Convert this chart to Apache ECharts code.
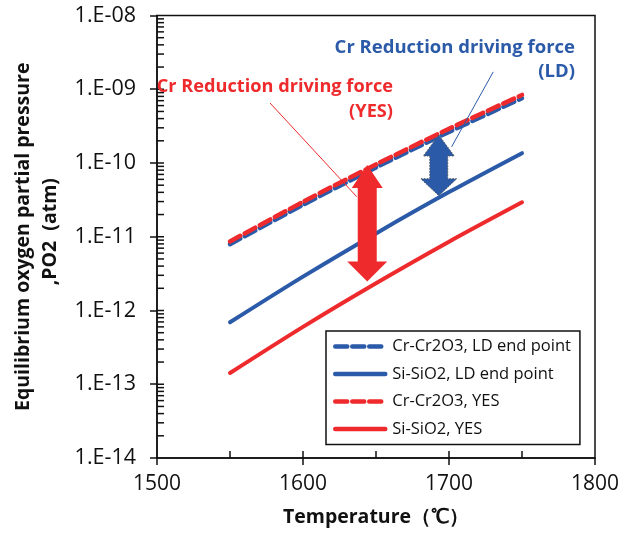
<!DOCTYPE html>
<html>
<head>
<meta charset="utf-8">
<script src="https://cdn.jsdelivr.net/npm/echarts@6/dist/echarts.min.js"></script>
<style>html,body{margin:0;padding:0;background:#fff}#c{width:626px;height:540px}</style>
</head>
<body>
<div id="c"></div>
<script>
// ---- data ----
const temps = [1550, 1600, 1650, 1700, 1750];
const crCr2O3_LD = [7.91e-12, 2.71e-11, 8.71e-11, 2.64e-10, 7.55e-10];
const siSiO2_LD = [6.92e-13, 2.88e-12, 1.11e-11, 4.03e-11, 1.36e-10];
const crCr2O3_YES = [8.63e-12, 2.97e-11, 9.57e-11, 2.91e-10, 8.37e-10];
const siSiO2_YES = [1.42e-13, 6.0e-13, 2.34e-12, 8.57e-12, 2.93e-11];
const seriesNames = ['Cr-Cr2O3, LD end point', 'Si-SiO2, LD end point', 'Cr-Cr2O3, YES', 'Si-SiO2, YES'];
const yTickLabels = ['1.E-14', '1.E-13', '1.E-12', '1.E-11', '1.E-10', '1.E-09', '1.E-08'];
const xTickLabels = ['1500', '1600', '1700', '1800'];
const xMinorTickValues = [1550, 1600, 1650, 1700, 1750];
// arrows: [temperature, top value, bottom value]
const arrowYES = [1644, 9.4e-11, 2.47e-12];
const arrowLD = [1693, 2.40e-10, 3.6e-11];
// leader lines: [t1, v1, t2, v2]
const leaderYES = [1577.4, 6.51e-10, 1636.8, 3.49e-11];
const leaderLD = [1730.3, 1.72e-9, 1701.8, 1.66e-10];
const annoYES = 'Cr Reduction driving force\n(YES)';
const annoLD = 'Cr Reduction driving force\n(LD)';

const BLUE = '#2a5aa8', RED = '#ee2a2c';
const FONT = '"Open Sans", sans-serif';

// y minor ticks (log positions within each decade) + inner half of majors
const yMinor = [];
for (let e = -14; e < -8; e++) {
  for (let k = 1; k <= 9; k++) {
    if (k === 1 && e === -14) continue;
    yMinor.push([1500, k * Math.pow(10, e)]);
  }
}
const xMinor = xMinorTickValues.map(t => [t, 1e-14]);

function zip(xs, ys) { return xs.map((x, i) => [x, ys[i]]); }

function arrowRender(headTopH, headTopW, headBotH, headBotW, shaftW, fill, stroke, dash) {
  return function (params, api) {
    const t = api.coord([api.value(0), api.value(1)]);
    const b = api.coord([api.value(0), api.value(2)]);
    const cx = t[0], top = t[1], bot = b[1];
    const pts = [
      [cx, top], [cx + headTopW / 2, top + headTopH], [cx + shaftW / 2, top + headTopH],
      [cx + shaftW / 2, bot - headBotH], [cx + headBotW / 2, bot - headBotH], [cx, bot],
      [cx - headBotW / 2, bot - headBotH], [cx - shaftW / 2, bot - headBotH],
      [cx - shaftW / 2, top + headTopH], [cx - headTopW / 2, top + headTopH]
    ];
    return {
      type: 'polygon', shape: { points: pts },
      style: { fill: fill, stroke: stroke || null, lineWidth: stroke ? 1 : 0, lineDash: dash || null }
    };
  };
}
function leaderRender(color) {
  return function (params, api) {
    const a = api.coord([api.value(0), api.value(1)]);
    const b = api.coord([api.value(2), api.value(3)]);
    return { type: 'line', shape: { x1: a[0], y1: a[1], x2: b[0], y2: b[1] }, style: { stroke: color, lineWidth: 1 } };
  };
}

const chart = echarts.init(document.getElementById('c'), null, { renderer: 'canvas' });
chart.setOption({
  animation: false,
  textStyle: { fontFamily: FONT },
  grid: { left: 157, right: 31, top: 15.5, bottom: 82, show: true, borderColor: '#111', borderWidth: 1.5, backgroundColor: 'transparent' },
  xAxis: {
    type: 'value', min: 1500, max: 1800, interval: 100,
    axisLine: { lineStyle: { color: '#111', width: 1.5 } },
    axisTick: { show: true, inside: false, length: 7, lineStyle: { color: '#111', width: 1.5 } },
    splitLine: { show: false },
    axisLabel: { color: '#111', fontSize: 21, fontFamily: FONT, margin: 16,
      formatter: v => xTickLabels[Math.round((v - 1500) / 100)] },
    name: 'Temperature（℃）', nameLocation: 'middle', nameGap: 49,
    nameTextStyle: { color: '#111', fontSize: 19.5, fontWeight: 'bold', fontFamily: FONT }
  },
  yAxis: {
    type: 'log', logBase: 10, min: 1e-14, max: 1e-8,
    axisLine: { lineStyle: { color: '#111', width: 1.5 } },
    axisTick: { show: true, inside: false, length: 7, lineStyle: { color: '#111', width: 1.5 } },
    minorTick: { show: false },
    splitLine: { show: false },
    axisLabel: { color: '#111', fontSize: 21.5, fontFamily: FONT, margin: 21,
      formatter: v => yTickLabels[Math.round(Math.log10(v)) + 14] },
    name: 'Equilibrium oxygen partial pressure\n  ,PO2  (atm)', nameLocation: 'middle', nameGap: 91, nameRotate: 90,
    nameTextStyle: { color: '#111', fontSize: 19.5, fontWeight: 'bold', fontFamily: FONT, lineHeight: 27, align: 'center' }
  },
  legend: {
    orient: 'vertical', left: 326, top: 331,
    data: seriesNames,
    itemWidth: 50, itemHeight: 14, itemGap: 10.5,
    padding: [7, 9, 7, 7],
    borderColor: '#111', borderWidth: 1.5, backgroundColor: '#fff',
    itemStyle: { color: 'rgba(0,0,0,0)', borderColor: 'rgba(0,0,0,0)', borderWidth: 0, opacity: 0 },
    lineStyle: { width: 4.5 },
    textStyle: { color: '#111', fontSize: 16.5, fontFamily: FONT, padding: [0, 0, 0, 2] },
    selectedMode: false
  },
  graphic: [
    { type: 'text', x: 575, y: 36, z: 100,
      style: { text: annoLD, fill: BLUE, font: 'bold 18.5px ' + FONT, textAlign: 'right', textVerticalAlign: 'top', lineHeight: 24 } },
    { type: 'text', x: 393, y: 74.5, z: 100,
      style: { text: annoYES, fill: RED, font: 'bold 18.2px ' + FONT, textAlign: 'right', textVerticalAlign: 'top', lineHeight: 25 } }
  ],
  series: [
    { name: seriesNames[0], type: 'line', data: zip(temps, crCr2O3_LD), smooth: 0.3, symbol: 'none', z: 3,
      lineStyle: { color: BLUE, width: 4.5, type: [12, 5], cap: 'round' }, itemStyle: { color: BLUE } },
    { name: seriesNames[1], type: 'line', data: zip(temps, siSiO2_LD), smooth: 0.3, symbol: 'none', z: 3,
      lineStyle: { color: BLUE, width: 4, cap: 'round' }, itemStyle: { color: BLUE } },
    { name: seriesNames[2], type: 'line', data: zip(temps, crCr2O3_YES), smooth: 0.3, symbol: 'none', z: 4,
      lineStyle: { color: RED, width: 4.5, type: [12, 5], cap: 'round' }, itemStyle: { color: RED } },
    { name: seriesNames[3], type: 'line', data: zip(temps, siSiO2_YES), smooth: 0.3, symbol: 'none', z: 3,
      lineStyle: { color: RED, width: 4, cap: 'round' }, itemStyle: { color: RED } },
    { type: 'custom', name: 'arrowYES', data: [arrowYES], z: 6, clip: false,
      renderItem: arrowRender(23, 31, 20, 40, 19, RED) },
    { type: 'custom', name: 'arrowLD', data: [arrowLD], z: 6, clip: false,
      renderItem: arrowRender(21, 31, 17, 36, 18, BLUE, '#555', [1.5, 1.5]) },
    { type: 'custom', name: 'leaderYES', data: [leaderYES], z: 7, clip: false, renderItem: leaderRender(RED) },
    { type: 'custom', name: 'leaderLD', data: [leaderLD], z: 7, clip: false, renderItem: leaderRender(BLUE) },
    { type: 'custom', name: 'yMinor', data: yMinor, z: 2, clip: false, silent: true,
      renderItem: function (params, api) {
        const p = api.coord([api.value(0), api.value(1)]);
        return { type: 'line', shape: { x1: p[0], y1: p[1], x2: p[0] + 7, y2: p[1] }, style: { stroke: '#111', lineWidth: 1.5 } };
      } },
    { type: 'custom', name: 'xMinor', data: xMinor, z: 2, clip: false, silent: true,
      renderItem: function (params, api) {
        const p = api.coord([api.value(0), api.value(1)]);
        return { type: 'line', shape: { x1: p[0], y1: p[1], x2: p[0], y2: p[1] - 7 }, style: { stroke: '#111', lineWidth: 1.5 } };
      } }
  ]
});
</script>
</body>
</html>
